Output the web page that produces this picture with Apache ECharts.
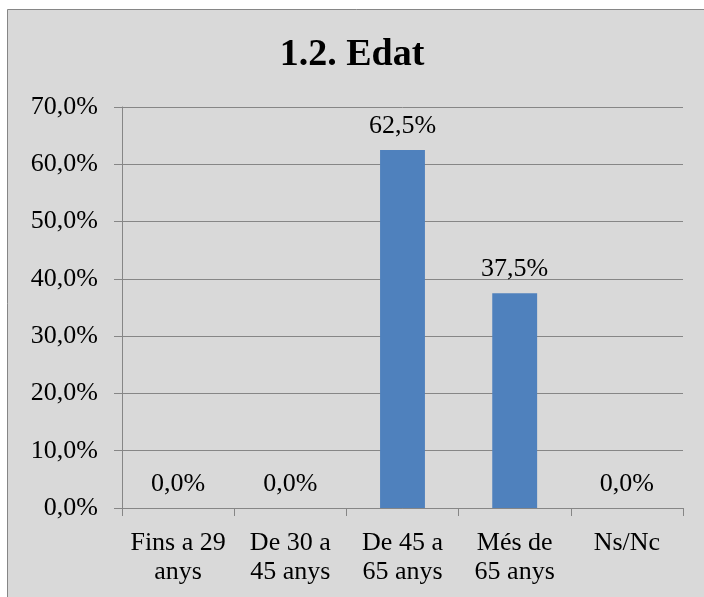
<!DOCTYPE html>
<html>
<head>
<meta charset="utf-8">
<script src="https://cdn.jsdelivr.net/npm/echarts@6/dist/echarts.min.js"></script>
<style>
  html, body { margin: 0; padding: 0; background: #ffffff; }
  #chart { width: 704px; height: 597px; }
</style>
</head>
<body>
<div id="chart"></div>
<script>
// data
var categories = ['Fins a 29\nanys', 'De 30 a\n45 anys', 'De 45 a\n65 anys', 'Més de\n65 anys', 'Ns/Nc'];
var values = [0.0, 0.0, 62.5, 37.5, 0.0];
var yTicks = [0, 10, 20, 30, 40, 50, 60, 70];

var fontFam = '"Liberation Serif", "DejaVu Serif", serif';
function pct(v) {
  return v.toFixed(1).replace('.', ',') + '%';
}

var myChart = echarts.init(document.getElementById('chart'));

var option = {
  animation: false,
  textStyle: { fontFamily: fontFam },
  graphic: [{
    type: 'rect',
    z: -10,
    shape: { x: 7.5, y: 9.5, width: 760, height: 640 },
    style: { fill: '#d9d9d9', stroke: '#868686', lineWidth: 1 }
  }],
  title: {
    text: '1.2. Edat',
    left: 'center',
    top: 31,
    textStyle: { fontFamily: fontFam, fontSize: 38, fontWeight: 'bold', color: '#000' }
  },
  grid: { left: 122, right: 21, top: 107, bottom: 89, containLabel: false },
  xAxis: {
    type: 'category',
    data: categories,
    axisLine: { lineStyle: { color: '#868686', width: 1 } },
    axisTick: { show: true, length: 8, alignWithLabel: false, lineStyle: { color: '#868686' } },
    axisLabel: { color: '#000', fontSize: 26, lineHeight: 29, margin: 21, interval: 0 }
  },
  yAxis: {
    type: 'value',
    min: yTicks[0],
    max: yTicks[yTicks.length - 1],
    interval: 10,
    axisLine: { show: true, lineStyle: { color: '#868686', width: 1 } },
    axisTick: { show: true, length: 8, lineStyle: { color: '#868686' } },
    splitLine: { show: true, lineStyle: { color: '#868686', width: 1 } },
    axisLabel: { color: '#000', fontSize: 26, margin: 24, formatter: function (v) { return pct(v); } }
  },
  series: [{
    type: 'bar',
    data: values,
    barWidth: '40%',
    itemStyle: { color: '#4f81bd' },
    label: {
      show: true,
      position: 'top',
      distance: 11,
      color: '#000',
      fontSize: 26,
      formatter: function (p) { return pct(p.value); }
    }
  }]
};

myChart.setOption(option);
</script>
</body>
</html>
